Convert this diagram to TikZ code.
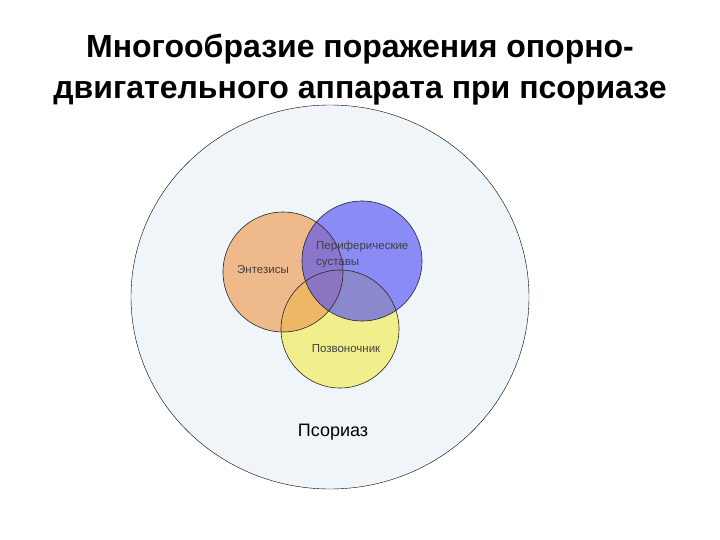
\documentclass[tikz,border=0pt]{standalone}
\usepackage{fontspec}
\setmainfont{Liberation Sans}
\usetikzlibrary{shapes.geometric}
\definecolor{psorfill}{RGB}{240,245,249}
\definecolor{enthfill}{RGB}{237,153,81}
\definecolor{jointfill}{RGB}{86,83,243}
\definecolor{spinefill}{RGB}{240,237,81}
\tikzset{
  ring/.style={circle,minimum size=120,inner sep=0pt,fill opacity=0.65},
  rim/.style={draw=black!85,line width=0.6pt},
  lbl/.style={font=\fontsize{11.5}{16}\selectfont,text=black!75,align=left,inner sep=0pt}
}
\begin{document}
\begin{tikzpicture}[x=1pt,y=-1pt]
    \useasboundingbox[fill=white] (0,0) rectangle (720,540);
    %Title
    \node[font=\bfseries\fontsize{32}{41}\selectfont,align=center,anchor=base] (title) at (360,99)
        {Многообразие поражения опорно-\\двигательного аппарата при псориазе};
    %Psoriasis
    \node[ellipse,draw=black,fill=psorfill,minimum width=398,minimum height=384] (psor) at (330,297) {};
    \node[font=\fontsize{18}{20}\selectfont] (psorlbl) at (333,432) {Псориаз};
    %Spine, enthesitis, joints
    \node[ring,fill=spinefill,minimum size=118] (spine) at (340,329) {};
    \node[ring,fill=enthfill] (enth) at (283,272) {};
    \node[ring,fill=jointfill] (joint) at (362,261) {};
    \draw[rim] (spine.center) circle[radius=59];
    \draw[rim] (enth.center) circle[radius=60];
    \draw[rim] (joint.center) circle[radius=60];
    \node[lbl,anchor=west] (enthlbl) at (237,270) {Энтезисы};
    \node[lbl,anchor=west] (jointlbl) at (316,255) {Периферические\\суставы};
    \node[lbl] (spinelbl) at (346,349) {Позвоночник};
\end{tikzpicture}
\end{document}
